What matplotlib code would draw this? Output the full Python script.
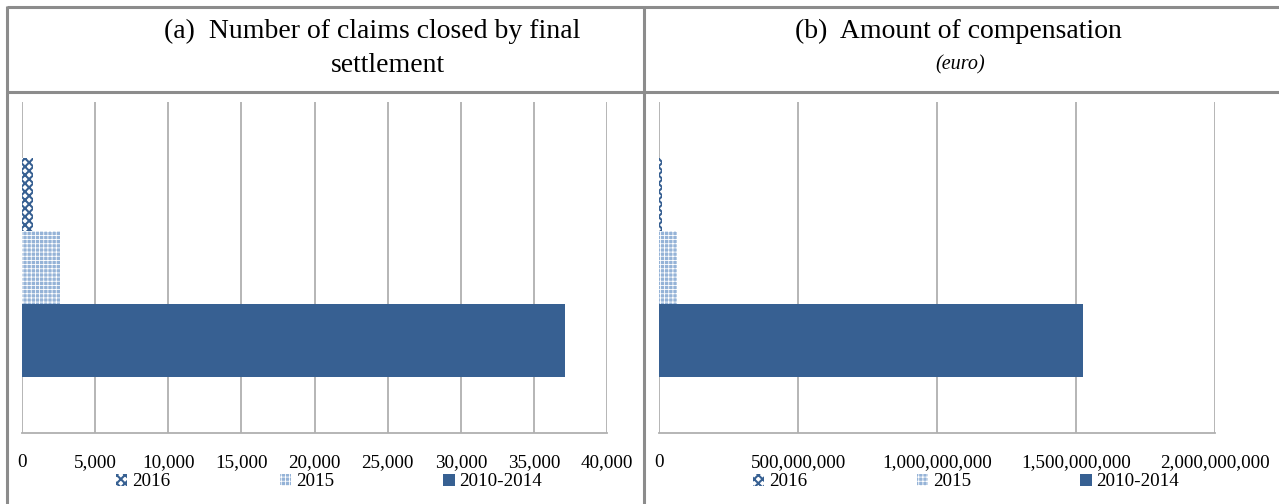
import matplotlib
matplotlib.use("Agg")
import matplotlib.pyplot as plt
from matplotlib.lines import Line2D

W, H, DPI = 1279, 504, 100

# ---- data -------------------------------------------------------------
series = ["2016", "2015", "2010-2014"]
claims_closed = [750, 2600, 37150]                      # number of claims
compensation = [9_000_000, 64_000_000, 1_524_000_000]   # euro

claims_ticks = [0, 5000, 10000, 15000, 20000, 25000, 30000, 35000, 40000]
comp_ticks = [0, 500_000_000, 1_000_000_000, 1_500_000_000, 2_000_000_000]

title_a = ["(a)  Number of claims closed by final", "settlement"]
title_b = "(b)  Amount of compensation"
unit_label = "(euro)"

# ---- style -------------------------------------------------------------
plt.rcParams["font.family"] = ["Liberation Serif", "DejaVu Serif"]

DARK = "#376092"
LIGHT = "#95B3D7"
GRID = "#B0B0B0"
BORDER = "#8C8C8C"

# (bar style, hatch line width) per series
bar_styles = [
    (dict(facecolor="white", edgecolor=DARK, hatch="xxxx", linewidth=0), 1.5),
    (dict(facecolor=LIGHT, edgecolor="white", hatch="++++", linewidth=0), 0.6),
    (dict(facecolor=DARK, edgecolor=DARK, linewidth=0), 1.0),
]

fig = plt.figure(figsize=(W / DPI, H / DPI), dpi=DPI)


def fx(x):
    return x / W


def fy(y):
    return 1 - y / H


def axes_px(left, top, right, bottom):
    return fig.add_axes([fx(left), fy(bottom), (right - left) / W, (bottom - top) / H])


# ---- table frame -------------------------------------------------------
frame_kw = dict(color=BORDER, lw=2.2, transform=fig.transFigure, solid_capstyle="butt")
fig.add_artist(Line2D([fx(7), 1], [fy(7), fy(7)], **frame_kw))
fig.add_artist(Line2D([fx(7), 1], [fy(92), fy(92)], **frame_kw))
fig.add_artist(Line2D([fx(7), fx(7)], [fy(6), 0], **frame_kw))
fig.add_artist(Line2D([fx(644), fx(644)], [fy(6), 0], **frame_kw))

# ---- header text -------------------------------------------------------
fig.text(fx(372), fy(31), title_a[0], ha="center", va="center", fontsize=20)
fig.text(fx(388), fy(65), title_a[1], ha="center", va="center", fontsize=20)
fig.text(fx(958), fy(31), title_b, ha="center", va="center", fontsize=20)
fig.text(fx(960), fy(65), unit_label, ha="center", va="center",
         fontsize=14.5, style="italic")

# ---- bar panels ----------------------------------------------------------
bar_h = 0.22
positions = [bar_h, 0.0, -bar_h]


def fmt(v):
    return f"{int(v):,}"


def draw_panel(ax, values, ticks, legend_center):
    handles = []
    for pos, val, name, (style, hlw) in zip(positions, values, series, bar_styles):
        with plt.rc_context({"hatch.linewidth": hlw}):
            b = ax.barh(pos, val, height=bar_h, label=name, **style)
        for p in b.patches:
            if hasattr(p, "set_hatch_linewidth"):
                p.set_hatch_linewidth(hlw)
        handles.append(b)
    ax.set_ylim(-0.5, 0.5)
    ax.set_xlim(ticks[0], ticks[-1])
    ax.set_xticks(ticks)
    ax.set_xticklabels([fmt(t) for t in ticks])
    ax.set_yticks([])
    ax.xaxis.grid(True, color=GRID, lw=1.3)
    ax.set_axisbelow(True)
    for side in ("top", "right", "left"):
        ax.spines[side].set_visible(False)
    ax.spines["bottom"].set_color(GRID)
    ax.spines["bottom"].set_linewidth(1.3)
    ax.tick_params(axis="x", length=0, pad=15, labelsize=13.8)
    leg = ax.legend(handles=handles, labels=series, loc="center",
                    bbox_to_anchor=(fx(legend_center), fy(482)),
                    bbox_transform=fig.transFigure, ncol=3, frameon=False,
                    fontsize=13.8, handlelength=0.6, handleheight=0.6,
                    handletextpad=0.25, columnspacing=5.7, borderpad=0)
    for h, (style, hlw) in zip(leg.legend_handles, bar_styles):
        if hasattr(h, "set_hatch_linewidth"):
            h.set_hatch_linewidth(hlw)


ax_a = axes_px(22, 102, 607, 433)
draw_panel(ax_a, claims_closed, claims_ticks, 329)

ax_b = axes_px(659, 102, 1215, 433)
draw_panel(ax_b, compensation, comp_ticks, 966)

fig.savefig("out.png", dpi=DPI)
